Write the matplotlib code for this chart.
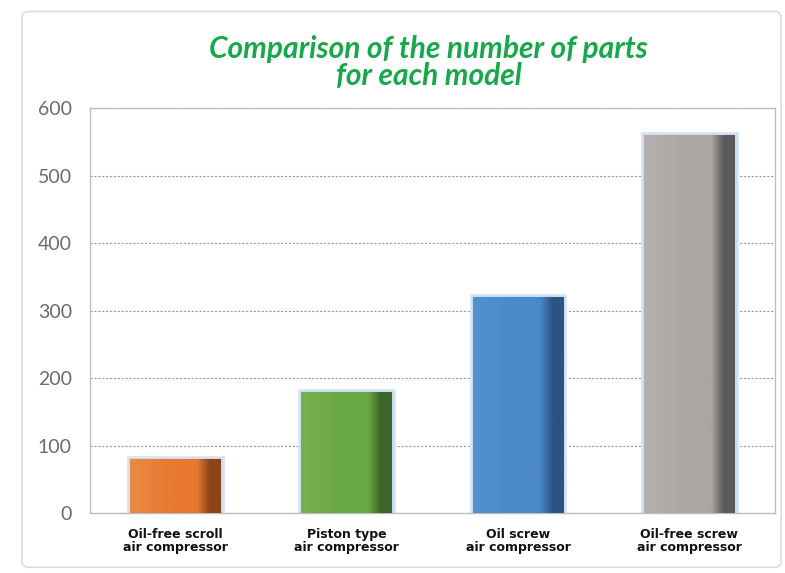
import numpy as np
import matplotlib
matplotlib.use("Agg")
import matplotlib.pyplot as plt
from matplotlib.colors import LinearSegmentedColormap
from matplotlib.patches import FancyBboxPatch

categories = [
    "Oil-free scroll\nair compressor",
    "Piston type\nair compressor",
    "Oil screw\nair compressor",
    "Oil-free screw\nair compressor",
]
parts = [80, 180, 320, 560]
base_colors = ["#e8792f", "#6aa844", "#4b88c9", "#aaa7a5"]
dark_colors = ["#8c4318", "#3a6628", "#2b5580", "#5c5a59"]
light_colors = ["#ec8a45", "#75b14f", "#5592d0", "#b4b1af"]

fig = plt.figure(figsize=(7.85, 5.73), dpi=100)
fig.patch.set_facecolor("white")

# light frame round the whole chart
frame = FancyBboxPatch((0.028, 0.01), 0.967, 0.97, boxstyle="round,pad=0,rounding_size=0.01",
                       transform=fig.transFigure, facecolor="none", edgecolor="#dcdcdc",
                       linewidth=1.2, zorder=-1)
fig.patches.append(frame)

ax = fig.add_axes([0.1146, 0.1047, 0.8726, 0.7068])
ax.set_facecolor("none")

x = np.arange(len(categories))
width = 0.53

# soft glow behind the bars
ax.bar(x, parts, width, color="none", edgecolor="#dde8f6", linewidth=5, zorder=2)
ax.bar(x, parts, width, color="none", edgecolor="#c9dbf1", linewidth=2.5, zorder=2)
bars = ax.bar(x, parts, width, color=base_colors, edgecolor="none", zorder=3)

# shaded fill: lighter on the left, dark strip on the right
for b, c0, c1, c2 in zip(bars, light_colors, base_colors, dark_colors):
    cmap = LinearSegmentedColormap.from_list(
        "g", [(0, c0), (0.45, c1), (0.74, c1), (0.88, c2), (1, c2)])
    grad = np.linspace(0, 1, 256).reshape(1, -1)
    im = ax.imshow(grad, cmap=cmap, aspect="auto", zorder=4,
                   extent=(b.get_x(), b.get_x() + b.get_width(), 0, b.get_height()))
    im.set_clip_path(b)

ax.set_xlim(-0.5, len(categories) - 0.5)
ax.set_ylim(0, 600)
ax.set_yticks(range(0, 601, 100))
ax.set_xticks(x)
ax.set_xticklabels(categories, fontsize=9, fontweight="bold", linespacing=0.95,
                   color="#111111")
ax.tick_params(axis="y", labelsize=14, colors="#6b6b6b", length=0, pad=13)
ax.tick_params(axis="x", length=0, pad=11)
for lab in ax.get_yticklabels():
    lab.set_family("Lato")

ax.grid(axis="y", color="#9a9a9a", linestyle=(0, (2, 1.5)), linewidth=0.8, zorder=1)
for s in ax.spines.values():
    s.set_color("#bdbdbd")
    s.set_linewidth(1)

fig.text(0.546, 0.891, "Comparison of the number of parts\nfor each model",
         ha="center", va="center", fontsize=21.5, fontweight="bold", style="italic",
         family="Lato", color="#17a84b", linespacing=0.95)

fig.savefig("out.png", dpi=100)
